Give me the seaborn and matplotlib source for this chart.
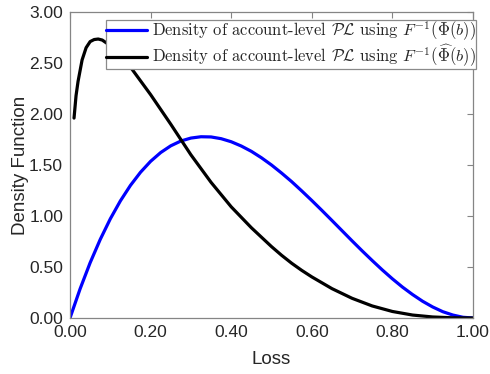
import matplotlib
matplotlib.use("Agg")
import matplotlib.pyplot as plt
import seaborn as sns
import pandas as pd

# Blue curve: density using F^{-1}(Phi(b))
loss_blue = [0.0, 0.025, 0.05, 0.075, 0.1, 0.125, 0.15, 0.175, 0.2, 0.225, 0.25,
             0.275, 0.3, 0.325, 0.35, 0.375, 0.4, 0.425, 0.45, 0.475, 0.5,
             0.525, 0.55, 0.575, 0.6, 0.625, 0.65, 0.675, 0.7, 0.725, 0.75,
             0.775, 0.8, 0.825, 0.85, 0.875, 0.9, 0.925, 0.95, 0.975, 1.0]
dens_blue = [0.0, 0.285, 0.542, 0.770, 0.972, 1.148, 1.300, 1.429, 1.536, 1.622, 1.688,
             1.735, 1.764, 1.777, 1.775, 1.758, 1.728, 1.686, 1.634, 1.571, 1.500,
             1.421, 1.337, 1.246, 1.152, 1.055, 0.956, 0.856, 0.756, 0.658, 0.563,
             0.471, 0.384, 0.303, 0.230, 0.164, 0.108, 0.062, 0.029, 0.007, 0.0]

# Black curve: density using F^{-1}(Phi-hat(b))
loss_black = [0.01, 0.015, 0.02, 0.03, 0.04, 0.05, 0.06, 0.07, 0.08, 0.10, 0.12,
              0.15, 0.20, 0.25, 0.30, 0.35, 0.40, 0.45, 0.50, 0.525, 0.55, 0.575, 0.60,
              0.65, 0.70, 0.75, 0.80, 0.85, 0.90, 0.95, 1.0]
dens_black = [1.96, 2.18, 2.32, 2.53, 2.65, 2.71, 2.73, 2.735, 2.725, 2.67, 2.59,
              2.46, 2.19, 1.90, 1.60, 1.33, 1.09, 0.885, 0.70, 0.615, 0.537, 0.467, 0.403,
              0.288, 0.193, 0.118, 0.064, 0.029, 0.010, 0.002, 0.0]

x_ticks = [0.0, 0.2, 0.4, 0.6, 0.8, 1.0]
y_ticks = [0.0, 0.5, 1.0, 1.5, 2.0, 2.5, 3.0]

label_blue = r"Density of account-level $\mathcal{PL}$ using $F^{-1}(\Phi(b))$"
label_black = r"Density of account-level $\mathcal{PL}$ using $F^{-1}(\widehat{\Phi}(b))$"

sns.set_style("white")
plt.rcParams["font.family"] = ["Liberation Sans", "DejaVu Sans"]
plt.rcParams["mathtext.fontset"] = "cm"

df_blue = pd.DataFrame({"Loss": loss_blue, "Density": dens_blue})
df_black = pd.DataFrame({"Loss": loss_black, "Density": dens_black})

fig = plt.figure(figsize=(4.9, 3.74), dpi=100)
ax = fig.add_axes([70 / 490, 56 / 374, 403 / 490, 306 / 374])

sns.lineplot(data=df_blue, x="Loss", y="Density", ax=ax, color="#0000ff",
             linewidth=2.3, sort=False, label=label_blue)
sns.lineplot(data=df_black, x="Loss", y="Density", ax=ax, color="black",
             linewidth=2.3, sort=False, label=label_black)

ax.set_xlim(0, 1)
ax.set_ylim(0, 3)
ax.set_xticks(x_ticks)
ax.set_yticks(y_ticks)
ax.set_xticklabels([f"{v:.2f}" for v in x_ticks])
ax.set_yticklabels([f"{v:.2f}" for v in y_ticks])

spine_col = "#858585"
for s in ax.spines.values():
    s.set_visible(True)
    s.set_color(spine_col)
    s.set_linewidth(0.9)
ax.tick_params(direction="in", length=4, width=0.8, color=spine_col,
               top=True, right=True, labelsize=12.5, labelcolor="#262626", pad=5)

ax.set_xlabel("Loss", fontsize=13.5, color="#262626", labelpad=8)
ax.set_ylabel("Density Function", fontsize=13.5, color="#262626", labelpad=0)

leg = ax.legend(loc="upper right", bbox_to_anchor=(1.008, 0.975),
                prop={"family": ["cmr10", "DejaVu Serif"], "size": 11.9},
                frameon=True, fancybox=False, framealpha=1, edgecolor="#8a8a8a",
                borderpad=0.0, handlelength=2.5, handletextpad=0.3,
                labelspacing=0.0, borderaxespad=0.0)
leg.get_frame().set_linewidth(0.9)

fig.savefig("out.png", dpi=100)
